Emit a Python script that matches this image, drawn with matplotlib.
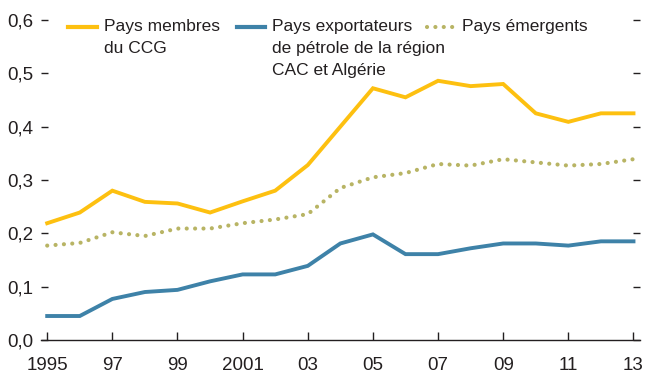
import matplotlib
matplotlib.use("Agg")
import matplotlib.pyplot as plt
from matplotlib.lines import Line2D

plt.rcParams['font.family'] = ['Liberation Sans Narrow', 'Liberation Sans', 'DejaVu Sans']

years = list(range(1995, 2014))
ccg = [0.219, 0.239, 0.280, 0.259, 0.256, 0.239, 0.260, 0.280, 0.328, 0.400,
       0.472, 0.455, 0.486, 0.476, 0.480, 0.425, 0.409, 0.425, 0.425]
cac = [0.045, 0.045, 0.077, 0.090, 0.094, 0.110, 0.123, 0.123, 0.139, 0.181,
       0.198, 0.161, 0.161, 0.172, 0.181, 0.181, 0.177, 0.185, 0.185]
emerging = [0.177, 0.182, 0.202, 0.195, 0.209, 0.209, 0.219, 0.226, 0.236, 0.285,
            0.305, 0.313, 0.330, 0.327, 0.339, 0.333, 0.327, 0.330, 0.339]

xticks = [1995, 1997, 1999, 2001, 2003, 2005, 2007, 2009, 2011, 2013]
xtick_labels = ["1995", "97", "99", "2001", "03", "05", "07", "09", "11", "13"]
yticks = [0.0, 0.1, 0.2, 0.3, 0.4, 0.5, 0.6]
ytick_labels = ["0,0", "0,1", "0,2", "0,3", "0,4", "0,5", "0,6"]

series_labels = ["Pays membres\ndu CCG",
                 "Pays exportateurs\nde pétrole de la région\nCAC et Algérie",
                 "Pays émergents"]

yellow = "#FDC010"
blue = "#3E82A8"
olive = "#B8B464"
text_color = "#231F20"

fig = plt.figure(figsize=(6.52, 3.75), dpi=100)
ax = fig.add_axes([0.0624, 0.0933, 0.9192, 0.8534])

ax.plot(years, ccg, color=yellow, lw=2.8, solid_joinstyle="miter")
ax.plot(years, cac, color=blue, lw=2.8, solid_joinstyle="miter")
ax.plot(years, emerging, color=olive, lw=3.0, linestyle=(0, (0.01, 2.0)),
        dash_capstyle="round")

ax.set_xlim(1994.8, 2013.2)
ax.set_ylim(0, 0.6)
ax.set_xticks(xticks)
ax.set_xticklabels(xtick_labels)
ax.set_yticks(yticks)
ax.set_yticklabels(ytick_labels)

for s in ["top", "left", "right"]:
    ax.spines[s].set_visible(False)
ax.spines["bottom"].set_color(text_color)
ax.spines["bottom"].set_linewidth(1.0)

ax.tick_params(axis="x", direction="in", length=6, width=1.0, color=text_color,
               labelsize=13.5, labelcolor=text_color, pad=12)
ax.tick_params(axis="y", direction="in", length=5, width=1.0, color=text_color,
               labelsize=13.5, labelcolor=text_color, pad=5.5, right=True)

# legend drawn as line samples with text next to them
legend_y = 0.978
entries = [
    (0.0456, 0.094, yellow, "-", series_labels[0]),
    (0.3277, 0.3745, blue, "-", series_labels[1]),
    (0.645, 0.692, olive, (0, (0.01, 2.0)), series_labels[2]),
]
for x0, x1, c, ls, lab in entries:
    kw = dict(dash_capstyle="round") if ls != "-" else {}
    ax.add_line(Line2D([x0, x1], [legend_y, legend_y], transform=ax.transAxes,
                       color=c, lw=3.0, linestyle=ls, clip_on=False, **kw))
    ax.text(x1 + 0.0115, 1.002, lab, transform=ax.transAxes,
            ha="left", va="top", fontsize=12.5, color=text_color, linespacing=1.58)

fig.savefig("out.png", dpi=100)
